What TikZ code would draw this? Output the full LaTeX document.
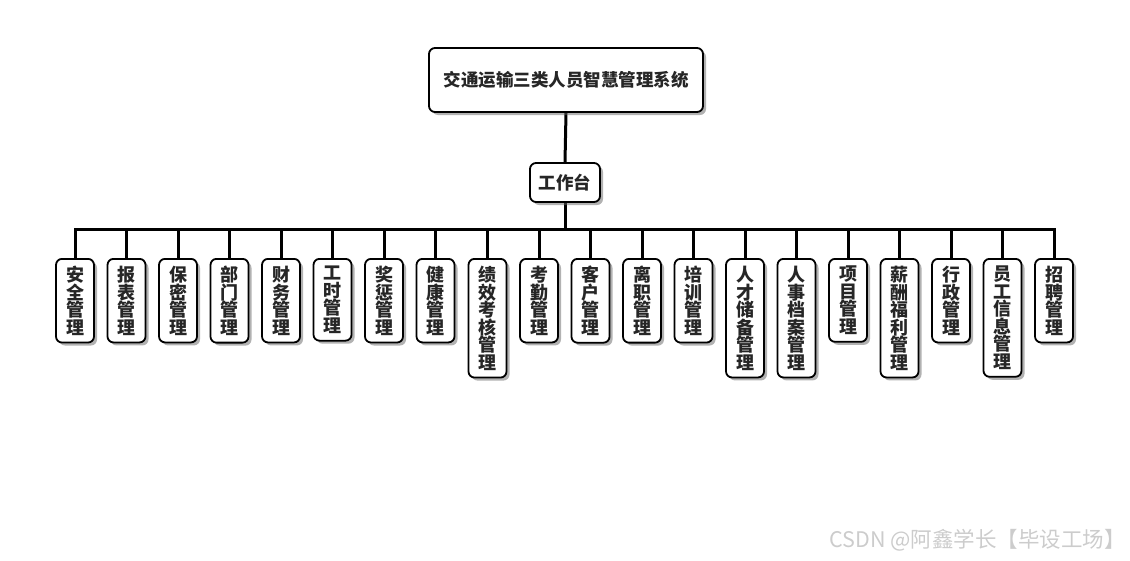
\documentclass[tikz,border=0pt]{standalone}
\usepackage{fontspec}
\setmainfont{Noto Sans CJK SC}
\usetikzlibrary{shadows,backgrounds}
\lineskiplimit=-100pt
\lineskip=0pt
\tikzset{
  box/.style={draw=black, line width=1.8pt, rounded corners=6pt, fill=white,
    font=\bfseries\fontsize{17.5}{17.5}\selectfont, text=black!85,
    drop shadow={shadow xshift=3pt, shadow yshift=-3pt, opacity=0.5, fill=black!60}},
  leaf/.style={box, anchor=north, minimum width=38pt, inner xsep=0pt, inner ysep=7.25pt, align=center,
    font=\bfseries\fontsize{18}{17.5}\selectfont},
  conn/.style={line width=3pt, black}
}
\begin{document}
\begin{tikzpicture}[x=1pt,y=-1pt]
\useasboundingbox (0,0) rectangle (1130,560);
\node[box, minimum width=274pt, minimum height=64pt] (root) at (566,80) {交通运输三类人员智慧管理系统};
\node[box, minimum width=70pt, minimum height=39pt, inner sep=0pt] (wt) at (565,182.5) {工作台};
\coordinate (bar) at (565,229);
\node[leaf] (l1) at (75,258) {安\\全\\管\\理};
\node[leaf] (l2) at (126.5,258) {报\\表\\管\\理};
\node[leaf] (l3) at (178,258) {保\\密\\管\\理};
\node[leaf] (l4) at (229.5,258) {部\\门\\管\\理};
\node[leaf] (l5) at (281,258) {财\\务\\管\\理};
\node[leaf] (l6) at (332.5,258) {工\\时\\管\\理};
\node[leaf] (l7) at (384,258) {奖\\惩\\管\\理};
\node[leaf] (l8) at (435.5,258) {健\\康\\管\\理};
\node[leaf] (l9) at (487.5,258) {绩\\效\\考\\核\\管\\理};
\node[leaf] (l10) at (539,258) {考\\勤\\管\\理};
\node[leaf] (l11) at (590.5,258) {客\\户\\管\\理};
\node[leaf] (l12) at (642,258) {离\\职\\管\\理};
\node[leaf] (l13) at (693.5,258) {培\\训\\管\\理};
\node[leaf] (l14) at (745,258) {人\\才\\储\\备\\管\\理};
\node[leaf] (l15) at (796.5,258) {人\\事\\档\\案\\管\\理};
\node[leaf] (l16) at (848,258) {项\\目\\管\\理};
\node[leaf] (l17) at (899.5,258) {薪\\酬\\福\\利\\管\\理};
\node[leaf] (l18) at (951,258) {行\\政\\管\\理};
\node[leaf] (l19) at (1002.5,258) {员\\工\\信\\息\\管\\理};
\node[leaf] (l20) at (1054,258) {招\\聘\\管\\理};
\node[font=\fontsize{21.5}{22}\selectfont, text=black!20, anchor=east, inner sep=0pt] (wm) at (1126,540) {CSDN @阿鑫学长【毕设工场】};
\begin{scope}[on background layer]
\draw[conn] (root.south) -- (wt.north);
\draw[conn] (wt.south) -- (bar);
\foreach \i in {1,...,20} {\draw[conn] (bar) -| (l\i.north);}
\end{scope}
\end{tikzpicture}
\end{document}
